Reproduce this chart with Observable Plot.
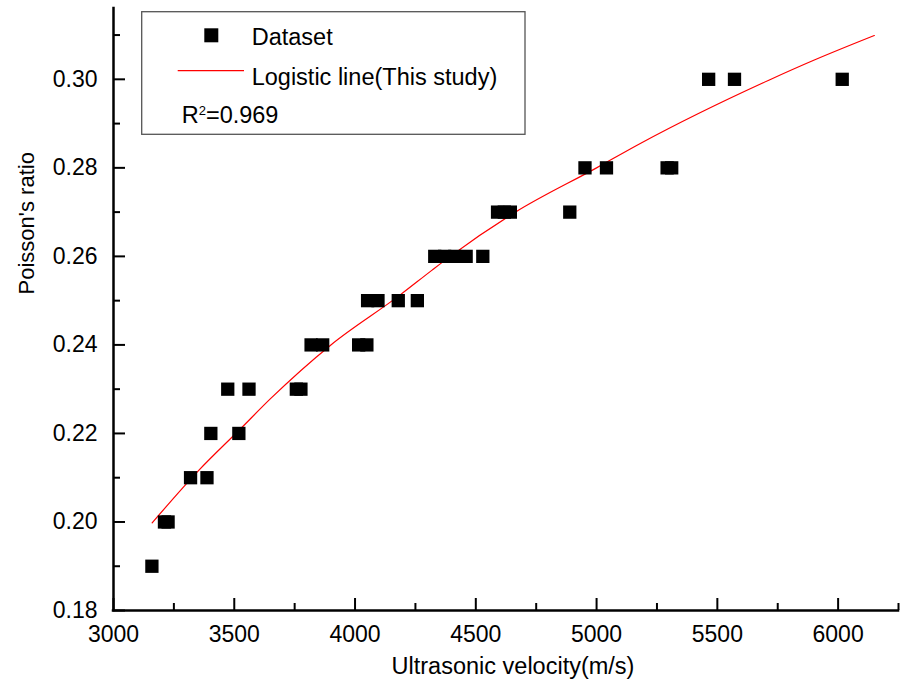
<!DOCTYPE html>
<html>
<head>
<meta charset="utf-8">
<script src="https://cdn.jsdelivr.net/npm/d3@7"></script>
<script src="https://cdn.jsdelivr.net/npm/@observablehq/plot@0.6"></script>
<style>
  body { margin: 0; background: #fff; }
  #wrap { position: relative; width: 905px; height: 682px; font-family: "Liberation Sans", Arial, sans-serif; }
  #legend { position: absolute; left: 0; top: 0; pointer-events: none; }
</style>
</head>
<body>
<div id="wrap"></div>
<script>
// Scatter data: ultrasonic velocity (m/s) and Poisson's ratio
const velocity = [3159, 3211, 3226, 3319, 3387, 3403, 3519, 3473, 3561, 3757, 3776,
  3818, 3866, 4015, 4049, 4052, 4095, 4179, 4258, 4330, 4371, 4413, 4460, 4529,
  4590, 4618, 4643, 4889, 4952, 5041, 5292, 5311, 5464, 5571, 6017];
const poisson = [0.19, 0.20, 0.20, 0.21, 0.21, 0.22, 0.22, 0.23, 0.23, 0.23, 0.23,
  0.24, 0.24, 0.24, 0.24, 0.25, 0.25, 0.25, 0.25, 0.26, 0.26, 0.26, 0.26, 0.26,
  0.27, 0.27, 0.27, 0.27, 0.28, 0.28, 0.28, 0.28, 0.30, 0.30, 0.30];

// Logistic fit line
const fitVelocity = [3160, 3352, 3525, 3649, 3900, 4187, 4319, 4394, 4664, 5000, 5181, 5713, 5899, 6150];
const fitPoisson  = [0.1998, 0.2116, 0.2210, 0.2278, 0.2400, 0.2513, 0.2569, 0.2600, 0.2700, 0.2800, 0.2855, 0.2998, 0.3043, 0.3099];

// Axes
const xDomain = [3000, 6250];
const yDomain = [0.18, 0.316];
const xMajor = [3000, 3500, 4000, 4500, 5000, 5500, 6000];
const xMinor = [3250, 3750, 4250, 4750, 5250, 5750, 6250];
const yMajor = [0.18, 0.20, 0.22, 0.24, 0.26, 0.28, 0.30];
const yMinor = [0.19, 0.21, 0.23, 0.25, 0.27, 0.29, 0.31];

const xTitle = "Ultrasonic velocity(m/s)";
const yTitle = "Poisson's ratio";
const legendLabels = ["Dataset", "Logistic line(This study)"];
const r2Text = "0.969";

const points = velocity.map((v, i) => ({v, p: poisson[i]}));
const fit = fitVelocity.map((v, i) => ({v, p: fitPoisson[i]}));

const W = 905, H = 682, ML = 113, MR = 7, MT = 8, MB = 72;
const frameW = W - ML - MR, frameH = H - MT - MB;
const majorLen = 12, minorLen = 7;

const chart = Plot.plot({
  width: W,
  height: H,
  marginLeft: ML,
  marginRight: MR,
  marginTop: MT,
  marginBottom: MB,
  style: {fontFamily: '"Liberation Sans", Arial, sans-serif', fontSize: "23px", color: "black", background: "white"},
  x: {domain: xDomain},
  y: {domain: yDomain},
  marks: [
    Plot.line(fit, {x: "v", y: "p", stroke: "#ff0000", strokeWidth: 1.2, curve: "monotone-x"}),
    Plot.dot(points, {x: "v", y: "p", symbol: "square", r: 7.5, fill: "black", stroke: "none"}),
    // inward ticks
    Plot.ruleX(xMajor, {x: d => d, insetTop: frameH - majorLen, stroke: "black", strokeWidth: 2}),
    Plot.ruleX(xMinor, {x: d => d, insetTop: frameH - minorLen, stroke: "black", strokeWidth: 2}),
    Plot.ruleY(yMajor, {y: d => d, insetRight: frameW - majorLen, stroke: "black", strokeWidth: 2}),
    Plot.ruleY(yMinor, {y: d => d, insetRight: frameW - minorLen, stroke: "black", strokeWidth: 2}),
    // axis lines
    Plot.ruleX([xDomain[0]], {stroke: "black", strokeWidth: 2.5, strokeLinecap: "square"}),
    Plot.ruleY([yDomain[0]], {stroke: "black", strokeWidth: 2.5, strokeLinecap: "square"}),
    Plot.axisX({ticks: xMajor, tickSize: 0, tickPadding: 15, tickFormat: d3.format("d"), fontSize: 23, label: null}),
    Plot.axisY({ticks: yMajor, tickSize: 0, tickPadding: 16, tickFormat: d3.format(".2f"), fontSize: 23, label: null}),
    Plot.text([xTitle], {frameAnchor: "bottom", dy: 63, dx: 7, fontSize: 23.5, lineAnchor: "bottom", fill: "black"}),
    Plot.text([yTitle], {frameAnchor: "left", dx: -80, dy: -15, rotate: -90, fontSize: 22, lineAnchor: "bottom", fill: "black"})
  ]
});

const wrap = document.getElementById("wrap");
wrap.appendChild(chart);

// Legend overlay
const ns = "http://www.w3.org/2000/svg";
const lg = document.createElementNS(ns, "svg");
lg.setAttribute("id", "legend");
lg.setAttribute("width", W);
lg.setAttribute("height", H);
lg.innerHTML = `
  <rect x="141.7" y="11.7" width="383.3" height="122.6" fill="white" stroke="#555" stroke-width="1.3"/>
  <rect x="204.3" y="28.3" width="14" height="14" fill="black"/>
  <text x="251.7" y="44.7" font-size="23.5" fill="black">${legendLabels[0]}</text>
  <line x1="177.7" x2="244" y1="70.7" y2="70.7" stroke="#ff0000" stroke-width="1.2"/>
  <text x="251.7" y="85" font-size="23.5" fill="black">${legendLabels[1]}</text>
  <text x="181.7" y="122.7" font-size="23.5" fill="black">R<tspan dy="-8" font-size="13">2</tspan><tspan dy="8">=${r2Text}</tspan></text>
`;
wrap.appendChild(lg);
</script>
</body>
</html>
